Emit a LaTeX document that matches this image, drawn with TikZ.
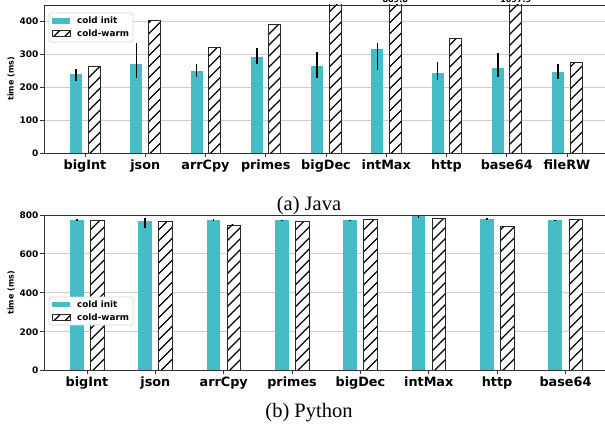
\documentclass[tikz,border=0pt]{standalone}
\usepackage{fontspec}
\setmainfont{Liberation Serif}
\newfontfamily\dvs{DejaVu Sans}
\definecolor{cyanbar}{RGB}{70,188,198}
\definecolor{gridc}{RGB}{205,205,205}
\definecolor{legc}{RGB}{215,215,215}
\tikzset{
  gridline/.style={draw=gridc, line width=0.9pt},
  spineline/.style={draw=black!80, line width=0.9pt},
  errbar/.style={draw=black, line width=1.5pt},
  hatchline/.style={draw=black, line width=1.25pt},
  baredge/.style={draw=black!85, line width=0.9pt},
  ticklab/.style={font=\dvs\bfseries\fontsize{9}{9}\selectfont, anchor=east, inner sep=0pt},
  xlab/.style={font=\dvs\bfseries\fontsize{12.8}{12.8}\selectfont, anchor=base, inner sep=0pt},
  leglab/.style={font=\dvs\bfseries\fontsize{8.8}{8.8}\selectfont, anchor=west, inner sep=0pt},
  ylab/.style={font=\dvs\bfseries\fontsize{8}{8}\selectfont, rotate=90, inner sep=0pt},
  vallab/.style={font=\dvs\bfseries\fontsize{8}{8}\selectfont, anchor=base, inner sep=0pt},
  captxt/.style={font=\fontsize{20.5}{20.5}\selectfont, anchor=base, inner sep=0pt},
  legbox/.style={draw=legc, fill=white, rounded corners=2.5pt, line width=0.8pt},
}
\newcommand\hatchrect[4]{%
  \begin{scope}
    \clip (#1,#2) rectangle (#3,#4);
    \fill[white] (#1,#2) rectangle (#3,#4);
    \foreach \k in {-3,...,18}{\draw[hatchline] (#1,#2) ++(-20pt,\k*11pt) -- ++(40pt,40pt);}
  \end{scope}
  \draw[baredge] (#1,#2) rectangle (#3,#4);
}
\begin{document}
\begin{tikzpicture}[x=1pt,y=-1pt]
\useasboundingbox (0,0) rectangle (605,431);
\fill[white] (0,0) rectangle (605,431);

% ---------------- top panel (Java) ----------------
\begin{scope}[shift={(0,153.3)}, y=0.3296pt]
  \foreach \v in {100,200,300,400} \draw[gridline] (44,\v) -- (605,\v);
  \begin{scope}
    \clip (44,0) rectangle (605,450);
    \foreach \i/\cv/\lo/\hi/\hv in {0/240/219/255/264, 1/270/228/336/402, 2/249/233/270/320, 3/292/270/318/392, 4/265/229/308/470, 5/315/253/336/889.8, 6/245/222/277/347, 7/258/232/303/1097.9, 8/248/225/270/275}{
      \pgfmathsetmacro\c{85+60.25*\i}
      \fill[cyanbar] (\c-15,0) rectangle (\c-3,\cv);
      \draw[errbar] (\c-9,\lo) -- (\c-9,\hi);
      \hatchrect{\c+3}{0}{\c+15}{\hv}
    }
  \end{scope}
  \draw[spineline] (44,450) -- (44,0) -- (605,0);
  \draw[spineline] (44,450) -- (605,450);
  \foreach \v in {0,100,200,300,400}{
    \draw[spineline] (40,\v) -- (44,\v);
    \node[ticklab] (jy\v) at (38.5,\v) {\v};
  }
  \foreach \i/\nm in {0/bigInt,1/json,2/arrCpy,3/primes,4/bigDec,5/intMax,6/http,7/base64,8/fileRW}{
    \pgfmathsetmacro\c{85+60.25*\i}
    \draw[spineline] (\c,0) -- ++(0,-3.5pt);
    \node[xlab] (jx\i) at (\c,0) [yshift=-16pt] {\nm};
  }
  \node[vallab] (jv5) at (395.25,450) [yshift=2.5pt] {889.8};
  \node[vallab] (jv7) at (515.75,450) [yshift=2.5pt] {1097.9};
\end{scope}
\node[ylab] (jyl) at (11,79) {time (ms)};
\draw[legbox] (49,13) rectangle (133,42);
\fill[cyanbar] (52,17.7) rectangle (70,23.7);
\hatchrect{52}{36.3}{70}{30.7}
\node[leglab] (jl1) at (77,20.5) {cold init};
\node[leglab] (jl2) at (77,33.5) {cold-warm};
\node[captxt] (capa) at (309,210) {(a) Java};

% ---------------- bottom panel (Python) ----------------
\begin{scope}[shift={(0,370.7)}, y=0.1946pt]
  \foreach \v in {200,400,600} \draw[gridline] (44,\v) -- (605,\v);
  \begin{scope}
    \clip (44,0) rectangle (605,800);
    \foreach \i/\cv/\lo/\hi/\hv in {0/774/770/778/772, 1/771/732/786/766, 2/774/768/779/749, 3/774/771/777/769, 4/774/771/777/779, 5/793/787/800/784, 6/779/774/785/743, 7/773/770/776/779}{
      \pgfmathsetmacro\c{87+68.35*\i}
      \fill[cyanbar] (\c-17,0) rectangle (\c-3.5,\cv);
      \draw[errbar] (\c-10.25,\lo) -- (\c-10.25,\hi);
      \hatchrect{\c+3.5}{0}{\c+17}{\hv}
    }
  \end{scope}
  \draw[spineline] (44,800) -- (44,0) -- (605,0);
  \draw[spineline] (44,800) -- (605,800);
  \foreach \v in {0,200,400,600,800}{
    \draw[spineline] (40,\v) -- (44,\v);
    \node[ticklab] (py\v) at (38.5,\v) {\v};
  }
  \foreach \i/\nm in {0/bigInt,1/json,2/arrCpy,3/primes,4/bigDec,5/intMax,6/http,7/base64}{
    \pgfmathsetmacro\c{87+68.35*\i}
    \draw[spineline] (\c,0) -- ++(0,-3.5pt);
    \node[xlab] (px\i) at (\c,0) [yshift=-16pt] {\nm};
  }
\end{scope}
\node[ylab] (pyl) at (11,293) {time (ms)};
\draw[legbox] (49,297) rectangle (133,325);
\fill[cyanbar] (52,301.7) rectangle (70,307.3);
\hatchrect{52}{320.7}{70}{314.3}
\node[leglab] (pl1) at (77,304.5) {cold init};
\node[leglab] (pl2) at (77,317.5) {cold-warm};
\node[captxt] (capb) at (309,417) {(b) Python};
\end{tikzpicture}
\end{document}
